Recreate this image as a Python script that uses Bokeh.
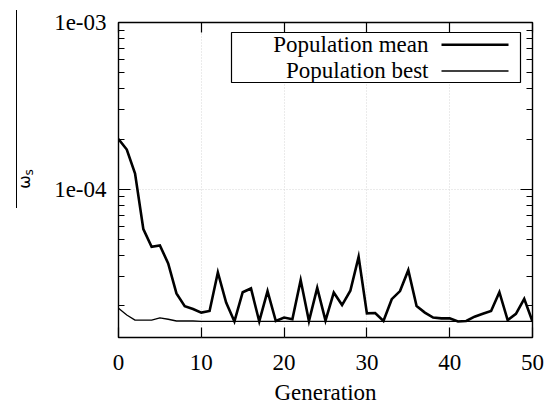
from bokeh.plotting import figure
from bokeh.layouts import row
from bokeh.models import (FixedTicker, CustomJSTickFormatter, LogAxis, LinearAxis,
                          Range1d, Label, PolyAnnotation, BoxAnnotation, Div)
from bokeh.embed import file_html
from bokeh.resources import INLINE

generation = list(range(51))
pop_mean = [2.0e-4, 1.73e-4, 1.24e-4, 5.76e-5, 4.52e-5, 4.6e-5, 3.59e-5, 2.37e-5, 1.99e-5, 1.91e-5,
            1.82e-5, 1.86e-5, 3.17e-5, 2.09e-5, 1.61e-5, 2.41e-5, 2.54e-5, 1.61e-5, 2.45e-5, 1.62e-5,
            1.7e-5, 1.66e-5, 2.85e-5, 1.62e-5, 2.56e-5, 1.63e-5, 2.4e-5, 2.02e-5, 2.46e-5, 3.93e-5,
            1.8e-5, 1.81e-5, 1.62e-5, 2.19e-5, 2.45e-5, 3.27e-5, 1.99e-5, 1.82e-5, 1.7e-5, 1.68e-5,
            1.68e-5, 1.61e-5, 1.62e-5, 1.72e-5, 1.79e-5, 1.86e-5, 2.41e-5, 1.64e-5, 1.79e-5, 2.2e-5,
            1.61e-5]
pop_best = [1.93e-5, 1.76e-5, 1.64e-5, 1.64e-5, 1.64e-5, 1.69e-5, 1.66e-5, 1.62e-5, 1.62e-5, 1.62e-5] + [1.61e-5] * 41

x_ticks = [0, 10, 20, 30, 40, 50]
y_ticks = [1e-4, 1e-3]
y_minor = [k * 1e-5 for k in range(2, 10)] + [k * 1e-4 for k in range(2, 10)]
legend_labels = ["Population mean", "Population best"]
y_label_main, y_label_sub = "\u03c9", "s"
x_label = "Generation"

SERIF = "Liberation Serif"
FS = "23px"
H = 409

# ---------------- main plot ----------------
p = figure(width=515, height=H, y_axis_type="log", output_backend="svg",
           toolbar_location=None, x_range=Range1d(0, 50), y_range=Range1d(1.29e-5, 1e-3),
           min_border_left=78, min_border_right=23, min_border_top=22, min_border_bottom=72)
p.background_fill_color = "white"
p.border_fill_color = "white"
p.outline_line_color = "black"
p.outline_line_width = 1.4

p.line(generation, pop_mean, line_color="black", line_width=2.6, line_join="miter")
p.line(generation, pop_best, line_color="black", line_width=1.3)

fmt = CustomJSTickFormatter(code="""
    const e = Math.round(Math.log10(tick));
    const s = Math.abs(e) < 10 ? '0' + Math.abs(e) : '' + Math.abs(e);
    return '1e' + (e < 0 ? '-' : '+') + s;
""")

def style_axis(ax, labels=True):
    ax.axis_line_color = None
    ax.major_tick_out = 0
    ax.minor_tick_out = 0
    ax.major_tick_line_color = "black"
    ax.minor_tick_line_color = "black"
    ax.major_tick_line_width = 1.2
    ax.minor_tick_line_width = 1.2
    ax.major_label_text_font = SERIF
    ax.major_label_text_font_size = FS
    ax.major_label_text_color = "black" if labels else None
    ax.axis_label_text_font = SERIF
    ax.axis_label_text_font_size = FS
    ax.axis_label_text_font_style = "normal"
    ax.axis_label_text_color = "black"

yl = p.yaxis[0]
yl.ticker = FixedTicker(ticks=y_ticks, minor_ticks=y_minor)
yl.formatter = fmt
style_axis(yl)
yl.major_tick_in = 12
yl.minor_tick_in = 6
yl.major_label_standoff = 12

xb = p.xaxis[0]
xb.ticker = FixedTicker(ticks=x_ticks, minor_ticks=[])
style_axis(xb)
xb.major_tick_in = 10
xb.minor_tick_in = 0
xb.major_label_standoff = 17
xb.axis_label = x_label
xb.axis_label_standoff = 7

yr = LogAxis(ticker=FixedTicker(ticks=y_ticks, minor_ticks=y_minor))
style_axis(yr, labels=False)
yr.major_tick_in = 12
yr.minor_tick_in = 6
yr.major_label_text_font_size = "0px"
yr.major_label_standoff = 0
p.add_layout(yr, "right")

xt = LinearAxis(ticker=FixedTicker(ticks=x_ticks, minor_ticks=[]))
style_axis(xt, labels=False)
xt.major_tick_in = 10
xt.minor_tick_in = 0
xt.major_label_text_font_size = "0px"
xt.major_label_standoff = 0
p.add_layout(xt, "above")

for g in (p.xgrid, p.ygrid):
    g.grid_line_color = "#d6d6d6"
    g.grid_line_dash = "1 2"
    g.grid_line_width = 1
p.xgrid.ticker = FixedTicker(ticks=x_ticks)
p.ygrid.ticker = FixedTicker(ticks=y_ticks)

# legend (label left of sample line); screen units are frame-relative, y up
p.add_layout(BoxAnnotation(left=113, right=402, top=305, bottom=255,
                           left_units="screen", right_units="screen",
                           top_units="screen", bottom_units="screen",
                           fill_color="white", fill_alpha=1.0,
                           line_color="black", line_alpha=1.0, line_width=1.2,
                           level="overlay"))
for lbl, yb, ys, lw in [(legend_labels[0], 293, 292.7, 2.6), (legend_labels[1], 267, 266.5, 1.3)]:
    p.add_layout(Label(x=310, y=yb, x_units="screen", y_units="screen", text=lbl,
                       text_align="right", text_baseline="alphabetic",
                       text_font=SERIF, text_font_size="23px", text_color="black",
                       level="overlay"))
    p.add_layout(PolyAnnotation(xs=[323, 390], ys=[ys, ys], xs_units="screen", ys_units="screen",
                                line_color="black", line_alpha=1.0, line_width=lw,
                                fill_alpha=0, level="overlay"))

# ---------------- left strip with the overlined y label ----------------
label_html = (
    '<div style="position:relative;width:40px;height:409px;background:white;">'
    '<div style="position:absolute;left:16px;top:10px;width:0;height:198px;'
    'border-left:1.4px solid black;"></div>'
    '<div style="position:absolute;left:25px;top:179px;transform:translate(-50%,-50%) rotate(-90deg);'
    'white-space:nowrap;font-family:\'DejaVu Sans\';font-size:16px;line-height:1;color:black;">'
    + y_label_main +
    '<span style="font-size:12px;position:relative;top:3px;">' + y_label_sub + '</span></div>'
    '</div>'
)
q = Div(text=label_html, width=40, height=H, margin=0)

layout = row(q, p, spacing=0)
open("out.html", "w").write(file_html(layout, INLINE))
